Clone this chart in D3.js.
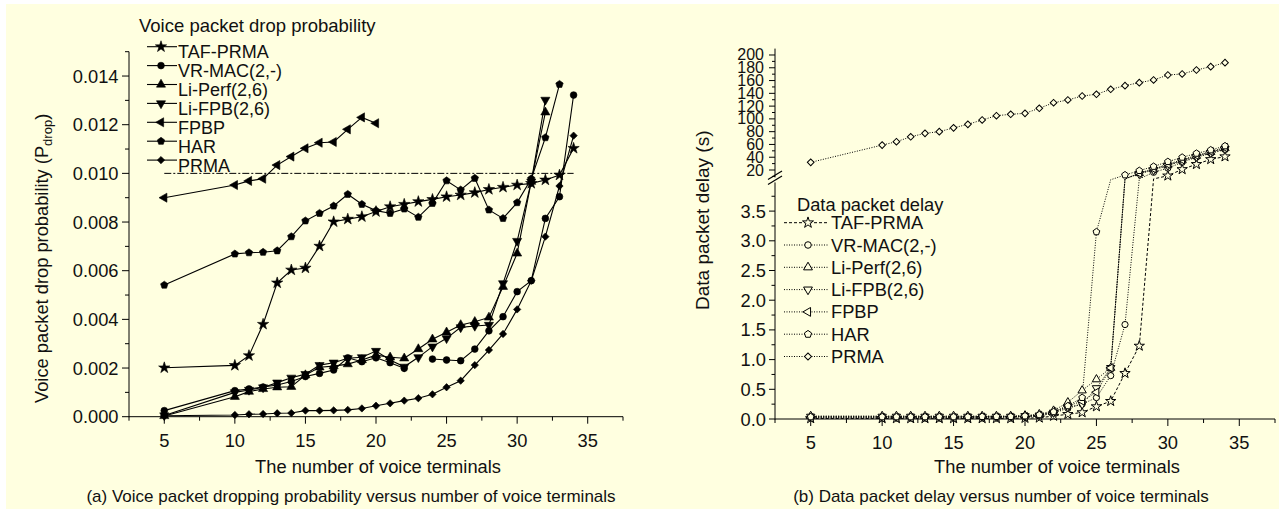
<!DOCTYPE html>
<html><head><meta charset="utf-8">
<script src="https://cdn.jsdelivr.net/npm/d3@7/dist/d3.min.js"></script>
<style>body{margin:0;background:#fff}svg{display:block}text{font-family:Arial,"Liberation Sans",sans-serif;fill:#111}</style>
</head><body><svg id="c" width="1279" height="511"></svg>
<script>
// ---------- data ----------
const xs = [5,10,11,12,13,14,15,16,17,18,19,20,21,22,23,24,25,26,27,28,29,30,31,32,33,34];
const seriesNames = ["TAF-PRMA","VR-MAC(2,-)","Li-Perf(2,6)","Li-FPB(2,6)","FPBP","HAR","PRMA"];

// (a) voice packet drop probability
const dropTAF   = [0.00201,0.00211,0.00251,0.0038,0.0055,0.00603,0.00611,0.00701,0.00801,0.00812,0.00822,0.00843,0.00863,0.00873,0.00884,0.00893,0.00904,0.00911,0.00921,0.00934,0.00943,0.00952,0.00959,0.00973,0.00993,0.01103];
const dropVRMAC = [0.00025,0.00107,0.00114,0.00122,0.0013,0.00145,0.00165,0.00178,0.00192,0.00242,0.00226,0.00242,0.00222,0.00199,null,0.00237,0.00233,0.0023,0.00278,0.00353,0.00411,0.00514,0.00559,0.00815,0.00904,0.01322];
const dropLiPerf= [0.00003,0.00082,0.00103,0.00114,0.00121,0.00123,0.00171,0.00203,0.00208,0.00216,0.00233,0.00253,0.00244,0.0024,0.00278,0.00318,0.00347,0.00377,0.0039,0.00408,0.00534,0.00671,0.00966,0.01251,null,null];
const dropLiFPB = [0.00005,0.001,0.0011,0.0012,0.0014,0.0016,0.00175,0.00212,0.00222,0.0024,0.00244,0.0027,0.00233,0.00205,0.00244,0.00288,0.00322,0.00367,0.00373,0.00377,0.00548,0.00722,0.00966,0.01302,null,null];
const dropFPBP  = [0.0090,0.00952,0.00969,0.00978,0.01034,0.01069,0.01103,0.01126,0.01129,0.01181,0.0123,0.01206,null,null,null,null,null,null,null,null,null,null,null,null,null,null];
const dropHAR   = [0.00541,0.00669,0.00674,0.00676,0.00682,0.0074,0.00805,0.00836,0.00866,0.00914,0.00873,0.00847,0.00836,0.00854,0.0082,0.00877,0.0097,0.00932,0.0098,0.0085,0.00815,0.0088,0.00978,0.01147,0.01366,null];
const dropPRMA  = [0.00004,0.00007,0.0001,0.00011,0.00014,0.00015,0.00025,0.00025,0.00026,0.00028,0.00034,0.00045,0.00055,0.00066,0.00076,0.00092,0.00121,0.00148,0.00212,0.00274,0.0034,0.00441,0.00559,0.0074,0.00948,0.01155];
const dropLimit = 0.010;
const dropLimitRange = [5,34];

// (b) data packet delay (s)
const delayTAF   = [0.01,0.01,0.01,0.01,0.01,0.01,0.01,0.01,0.01,0.01,0.01,0.015,0.02,0.05,0.08,0.11,0.21,0.30,0.77,1.23,7,11,21,29,36.7,41];
const delayVRMAC = [0.03,0.03,0.03,0.03,0.03,0.03,0.03,0.03,0.03,0.03,0.04,0.04,0.05,0.1,0.18,0.25,0.36,0.73,1.59,7,16.4,23,32,40,46,52];
const delayLiPerf= [0.05,0.05,0.05,0.05,0.05,0.05,0.05,0.05,0.05,0.05,0.05,0.06,0.08,0.14,0.28,0.48,0.667,0.86,7,15,21,28,35,42,48,54];
const delayLiFPB = [0.04,0.04,0.04,0.04,0.04,0.04,0.04,0.04,0.04,0.04,0.04,0.05,0.06,0.11,0.2,0.25,0.52,0.86,7,14,20,27,34,41,47,53];
const delayFPBP  = [0.02,0.02,0.02,0.02,0.02,0.02,0.02,0.02,0.03,0.03,0.03,0.04,0.06,0.12,0.22,0.3,0.45,0.86,7,15,22,29,36,43,49,55];
const delayHAR   = [0.035,0.035,0.035,0.035,0.035,0.035,0.035,0.035,0.04,0.04,0.04,0.05,0.07,0.12,0.22,0.36,3.15,6,12.2,19,25.5,33,39.8,46,51.3,57.6];
const delayPRMA  = [32,59,64.3,72,77.4,80,86,91.5,98.3,105,107.2,108.7,116.6,125.3,129.6,135.8,138.5,146.3,152,156.7,160.9,168.7,170.3,176.5,181.7,188];

const xTicks = [5,10,15,20,25,30,35];
const dropTicks = [0,0.002,0.004,0.006,0.008,0.010,0.012,0.014];
const delayLowTicks = [0,0.5,1,1.5,2,2.5,3,3.5];
const delayHighTicks = [20,40,60,80,100,120,140,160,180,200];

const dropSeries  = [dropTAF,dropVRMAC,dropLiPerf,dropLiFPB,dropFPBP,dropHAR,dropPRMA];
const delaySeries = [delayTAF,delayVRMAC,delayLiPerf,delayLiFPB,delayFPBP,delayHAR,delayPRMA];
const shapes = ["star","circle","triUp","triDown","triLeft","pentagon","diamond"];

// ---------- drawing ----------
const BG = "#FFFFE0";
const FS = 18.3;
const svg = d3.select("#c");
svg.append("rect").attr("x",6).attr("y",4).attr("width",1273).attr("height",505).attr("fill",BG);

function symPath(shape, size){
  if(shape==="star") return d3.symbol(d3.symbolStar, size*1.1)();
  if(shape==="circle") return d3.symbol(d3.symbolCircle, size)();
  if(shape==="diamond") return d3.symbol(d3.symbolSquare, size*0.75)();
  if(shape==="pentagon"){
    const r = Math.sqrt(size/2.38);
    const pts = d3.range(5).map(i=>{const a=-Math.PI/2+i*2*Math.PI/5;return [r*Math.cos(a),r*Math.sin(a)];});
    return "M"+pts.map(p=>p.join(",")).join("L")+"Z";
  }
  return d3.symbol(d3.symbolTriangle, size)();
}
function symRot(shape){
  return shape==="triDown"?180:shape==="triLeft"?-90:shape==="diamond"?45:0;
}
function drawSym(g, shape, x, y, size, filled){
  g.append("path").attr("d",symPath(shape,size))
   .attr("transform",`translate(${x},${y}) rotate(${symRot(shape)})`)
   .attr("fill",filled?"#000":BG).attr("stroke","#000").attr("stroke-width",filled?0.6:1);
}

// ===== Panel (a) =====
const xa = d3.scaleLinear().domain([2.5,37.5]).range([129,623]);
const ya = d3.scaleLinear().domain([0,0.015]).range([416.7,51.7]);
const ga = svg.append("g");

const axA = ga.append("g").attr("stroke","#000").attr("stroke-width",1);
axA.append("line").attr("x1",129).attr("x2",129).attr("y1",ya(0.015)).attr("y2",ya(0)+0.5);
axA.append("line").attr("x1",129).attr("x2",623).attr("y1",ya(0)).attr("y2",ya(0));
d3.range(0,0.0151,0.001).forEach((v,i)=>{
  const major = i%2===0;
  axA.append("line").attr("x1",129).attr("x2",129-(major?7:4)).attr("y1",ya(v)).attr("y2",ya(v));
});
d3.range(2.5,37.6,2.5).forEach((v,i)=>{
  const major = i%2===1;
  axA.append("line").attr("x1",xa(v)).attr("x2",xa(v)).attr("y1",ya(0)).attr("y2",ya(0)+(major?7:4));
});
ga.selectAll(".ylab").data(dropTicks).enter().append("text")
  .attr("x",118.5).attr("y",d=>ya(d)+6.5).attr("text-anchor","end").attr("font-size",FS)
  .text(d=>d3.format(".3f")(d));
ga.selectAll(".xlab").data(xTicks).enter().append("text")
  .attr("x",d=>xa(d)).attr("y",446.5).attr("text-anchor","middle").attr("font-size",FS).text(d=>d);

ga.append("line").attr("x1",xa(dropLimitRange[0])).attr("x2",xa(dropLimitRange[1]))
  .attr("y1",ya(dropLimit)).attr("y2",ya(dropLimit)).attr("stroke","#000").attr("stroke-width",1)
  .attr("stroke-dasharray","7,2,2,2");

dropSeries.forEach((arr,si)=>{
  const pts = xs.map((x,i)=>[x,arr[i]]);
  const line = d3.line().defined(d=>d[1]!==null).x(d=>xa(d[0])).y(d=>ya(d[1]));
  ga.append("path").attr("d",line(pts)).attr("fill","none").attr("stroke","#000").attr("stroke-width",1.1);
  pts.filter(d=>d[1]!==null).forEach(d=>drawSym(ga,shapes[si],xa(d[0]),ya(d[1]),36,true));
});

// legend (a)
ga.append("text").attr("x",139).attr("y",32).attr("font-size",18.5).text("Voice packet drop probability");
seriesNames.forEach((n,i)=>{
  const y = 46.7 + i*18.9;
  ga.append("line").attr("x1",147).attr("x2",177).attr("y1",y).attr("y2",y).attr("stroke","#000").attr("stroke-width",1.1);
  drawSym(ga,shapes[i],161,y,36,true);
  ga.append("text").attr("x",178).attr("y",y+11.7).attr("font-size",18).text(n);
});

ga.append("text").attr("transform","translate(48,403) rotate(-90)").attr("font-size",FS)
  .html('Voice packet drop probability (P<tspan font-size="13" dy="4">drop</tspan><tspan dy="-4">)</tspan>');
ga.append("text").attr("x",378).attr("y",473.3).attr("text-anchor","middle").attr("font-size",FS).text("The number of voice terminals");
ga.append("text").attr("x",351).attr("y",501.7).attr("text-anchor","middle").attr("font-size",17)
  .text("(a) Voice packet dropping probability versus number of voice terminals");

// ===== Panel (b) =====
const xb = d3.scaleLinear().domain([2.5,37.5]).range([775,1275]);
const yLow = d3.scaleLinear().domain([0,4]).range([419,181.4]);
const yHigh = d3.scaleLinear().domain([10,210]).range([176.4,48.6]);
const yGap = d3.scaleLinear().domain([4,10]).range([181.4,176.4]);
const yb = v => v<=4 ? yLow(v) : (v>=10 ? yHigh(v) : yGap(v));
const gb = svg.append("g");
const axB = gb.append("g").attr("stroke","#000").attr("stroke-width",1);
axB.append("line").attr("x1",775).attr("x2",775).attr("y1",yLow(4)+1).attr("y2",yLow(0)+0.5);
axB.append("line").attr("x1",775).attr("x2",775).attr("y1",yHigh(210)).attr("y2",yHigh(10)+1);
axB.append("line").attr("x1",775).attr("x2",1275).attr("y1",yLow(0)).attr("y2",yLow(0));
d3.range(0,3.76,0.25).forEach((v,i)=>{
  const major = i%2===0;
  axB.append("line").attr("x1",775).attr("x2",775-(major?6:3.5)).attr("y1",yLow(v)).attr("y2",yLow(v));
});
d3.range(10,201,10).forEach((v,i)=>{
  const major = i%2===1;
  axB.append("line").attr("x1",775).attr("x2",775-(major?6:3)).attr("y1",yHigh(v)).attr("y2",yHigh(v));
});
d3.range(2.5,37.6,2.5).forEach((v,i)=>{
  const major = i%2===1;
  axB.append("line").attr("x1",xb(v)).attr("x2",xb(v)).attr("y1",yLow(0)).attr("y2",yLow(0)+(major?7:4));
});
[0,5].forEach(o=>{
  axB.append("line").attr("x1",768).attr("x2",782).attr("y1",183.5+o-4).attr("y2",175+o-4).attr("stroke-width",1.2);
});
gb.selectAll(".yl").data(delayLowTicks).enter().append("text")
  .attr("x",766).attr("y",d=>yLow(d)+6.5).attr("text-anchor","end").attr("font-size",FS).text(d=>d3.format(".1f")(d));
gb.selectAll(".yh").data(delayHighTicks).enter().append("text")
  .attr("x",764).attr("y",d=>yHigh(d)+5.5).attr("text-anchor","end").attr("font-size",16).text(d=>d);
gb.selectAll(".xl").data(xTicks).enter().append("text")
  .attr("x",d=>xb(d)).attr("y",448.5).attr("text-anchor","middle").attr("font-size",FS).text(d=>d);

delaySeries.forEach((arr,si)=>{
  const pts = xs.map((x,i)=>[x,arr[i]]);
  const line = d3.line().x(d=>xb(d[0])).y(d=>yb(d[1]));
  gb.append("path").attr("d",line(pts)).attr("fill","none").attr("stroke","#000").attr("stroke-width",1)
    .attr("stroke-dasharray",si===0?"3,2":"1,1.5");
});
delaySeries.forEach((arr,si)=>{
  xs.forEach((x,i)=>{
    const v = arr[i];
    if(v>4 && v<10) return;
    drawSym(gb,shapes[si],xb(x),yb(v),30,false);
  });
});

// legend (b)
gb.append("text").attr("x",797).attr("y",211).attr("font-size",FS).text("Data packet delay");
seriesNames.forEach((n,i)=>{
  const y = 222.7 + i*22.3;
  gb.append("line").attr("x1",784).attr("x2",828).attr("y1",y).attr("y2",y).attr("stroke","#000").attr("stroke-width",1)
    .attr("stroke-dasharray",i===0?"3,2":"1,1.5");
  drawSym(gb,shapes[i],808,y,34,false);
  gb.append("text").attr("x",831).attr("y",y+6.5).attr("font-size",FS).text(n);
});

gb.append("text").attr("transform","translate(709,310) rotate(-90)").attr("font-size",FS+0.7).text("Data packet delay (s)");
gb.append("text").attr("x",1057).attr("y",473.3).attr("text-anchor","middle").attr("font-size",FS).text("The number of voice terminals");
gb.append("text").attr("x",1001).attr("y",501.7).attr("text-anchor","middle").attr("font-size",17)
  .text("(b) Data packet delay versus number of voice terminals");
</script></body></html>
